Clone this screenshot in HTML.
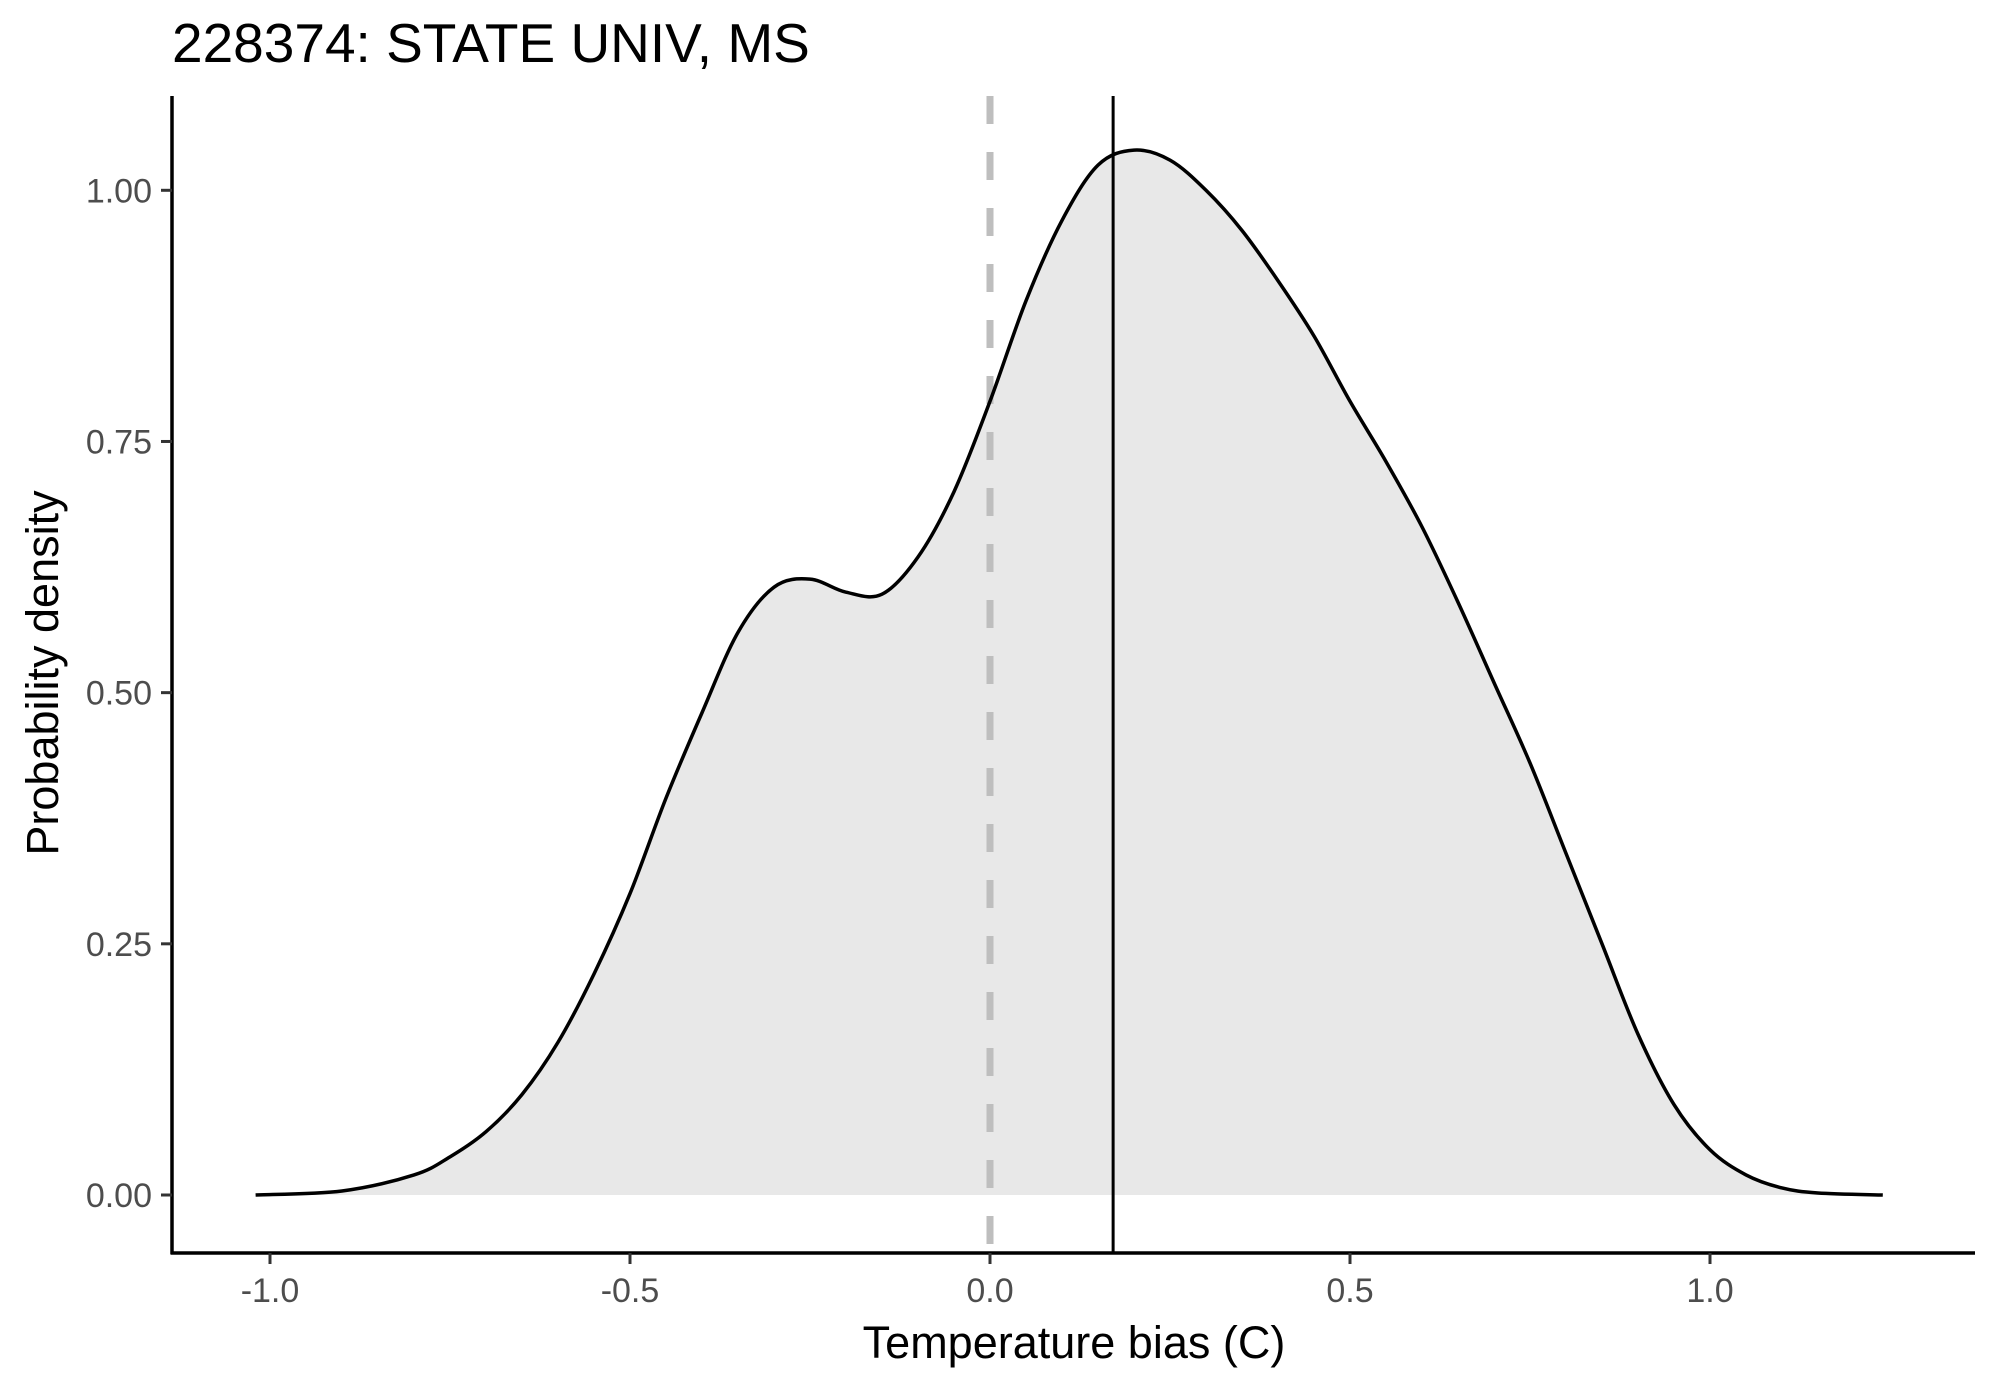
<!DOCTYPE html>
<html><head><meta charset="utf-8"><style>
body{margin:0;background:#fff}
svg text{font-family:"Liberation Sans",sans-serif}
</style></head><body>
<svg id="chart" width="1990" height="1384" viewBox="0 0 1990 1384" xmlns="http://www.w3.org/2000/svg">
<text x="172" y="62" font-size="55" fill="#000">228374: STATE UNIV, MS</text>
<g id="plot"></g>
<text x="1074" y="1358" font-size="45" text-anchor="middle" fill="#000">Temperature bias (C)</text>
<text transform="translate(58,673) rotate(-90)" font-size="45" text-anchor="middle" fill="#000">Probability density</text>
</svg>
<script>
const xs=[-1.02,-0.9,-0.8,-0.75,-0.7,-0.65,-0.6,-0.55,-0.5,-0.45,-0.4,-0.35,-0.3,-0.25,-0.2,-0.15,-0.1,-0.05,0.0,0.05,0.1,0.15,0.2,0.25,0.3,0.35,0.4,0.45,0.5,0.55,0.6,0.65,0.7,0.75,0.8,0.85,0.9,0.95,1.0,1.05,1.1,1.15,1.24];
const ys=[0,0.004,0.02,0.038,0.063,0.1,0.152,0.22,0.3,0.395,0.48,0.56,0.605,0.613,0.6,0.598,0.635,0.7,0.79,0.89,0.97,1.025,1.04,1.03,1.0,0.96,0.91,0.855,0.79,0.73,0.665,0.59,0.51,0.43,0.34,0.25,0.16,0.09,0.045,0.02,0.007,0.002,0];
const xTicks=[-1.0,-0.5,0.0,0.5,1.0];
const xTickLabels=["-1.0","-0.5","0.0","0.5","1.0"];
const yTicks=[0,0.25,0.5,0.75,1.0];
const yTickLabels=["0.00","0.25","0.50","0.75","1.00"];
const meanBias=0.171;
const refLine=0.0;

const NS="http://www.w3.org/2000/svg";
const X=v=>990+v*720;
const Y=v=>1195-v*1004.7;
const g=document.getElementById('plot');
function mk(t,a){const e=document.createElementNS(NS,t);for(const k in a)e.setAttribute(k,a[k]);g.appendChild(e);return e;}
const P=xs.map((x,i)=>[X(x),Y(ys[i])]);
let d="M"+P[0][0]+","+P[0][1];
for(let i=0;i<P.length-1;i++){const p0=P[Math.max(0,i-1)],p1=P[i],p2=P[i+1],p3=P[Math.min(P.length-1,i+2)];
d+=` C${p1[0]+(p2[0]-p0[0])/6},${p1[1]+(p2[1]-p0[1])/6} ${p2[0]-(p3[0]-p1[0])/6},${p2[1]-(p3[1]-p1[1])/6} ${p2[0]},${p2[1]}`;}
const area=mk('path',{d:d+` L${P[P.length-1][0]},${Y(0)} L${P[0][0]},${Y(0)} Z`,fill:'#e8e8e8',stroke:'none'});


const dash=mk('line',{x1:X(refLine),x2:X(refLine),y1:96,y2:1253,stroke:'#bebebe','stroke-width':7,'stroke-dasharray':'28,28'});


const line=mk('path',{d:d,fill:'none',stroke:'#000','stroke-width':3.5});


const vl=mk('line',{x1:X(meanBias),x2:X(meanBias),y1:96,y2:1253,stroke:'#000','stroke-width':3});


const ya=mk('line',{x1:172,x2:172,y1:96,y2:1254,stroke:'#000','stroke-width':3.5});


const xa=mk('line',{x1:170.5,x2:1975,y1:1253,y2:1253,stroke:'#000','stroke-width':3.5});


xTicks.forEach((v,i)=>{
 const t=mk('line',{x1:X(v),x2:X(v),y1:1253,y2:1264,stroke:'#333','stroke-width':3});
 
 
 const l=mk('text',{x:X(v),y:1302,'font-size':34,'text-anchor':'middle',fill:'#4d4d4d'});l.textContent=xTickLabels[i];
 
 
});
yTicks.forEach((v,i)=>{
 const t=mk('line',{x1:161,x2:172,y1:Y(v),y2:Y(v),stroke:'#333','stroke-width':3});
 
 
 const l=mk('text',{x:152,y:Y(v)+12,'font-size':34,'text-anchor':'end',fill:'#4d4d4d'});l.textContent=yTickLabels[i];
 
 
});
</script>
</body></html>
